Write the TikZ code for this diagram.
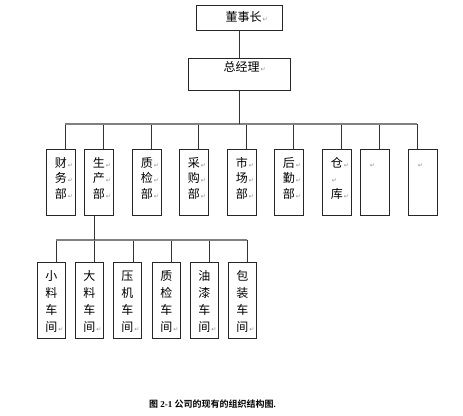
\documentclass[tikz,border=0pt]{standalone}
\usepackage{fontspec}
\setmainfont{Liberation Serif}
\newfontfamily\cjk{Noto Sans CJK SC}[BoldFont={Noto Sans CJK SC Bold}]
\newfontfamily\symf{DejaVu Sans}
\usetikzlibrary{positioning}
\newcommand\rmk{{\symf\fontsize{6}{6}\selectfont\color{black!45}\,↵}}
\tikzset{
  topbox/.style={draw=black!85,line width=.8pt,inner ysep=0pt,font=\cjk\fontsize{12}{12}\selectfont},
  dept/.style  ={draw=black!85,line width=.8pt,anchor=north west,minimum width=29,minimum height=66,
                 inner xsep=8.5pt,text width=12pt,inner ysep=0pt,align=left,text height=17.6pt,text depth=48.4pt,
                 font=\cjk\fontsize{12}{15.5}\selectfont},
  shop/.style  ={draw=black!85,line width=.8pt,anchor=north west,minimum width=28,minimum height=76,
                 inner xsep=8pt,text width=12pt,inner ysep=0pt,align=left,text height=17.6pt,text depth=58.4pt,
                 font=\cjk\fontsize{12}{17.3}\selectfont},
  link/.style  ={draw=black!80,line width=.8pt},
  bar/.style   ={draw=black!50,line width=1.3pt},
  captext/.style={font=\bfseries\fontsize{9}{9}\selectfont,inner sep=0pt},
}
\begin{document}
\begin{tikzpicture}[x=1pt,y=-1pt]
  \useasboundingbox (0,0) rectangle (463,415);
  \node[topbox,minimum width=86,minimum height=25,text height=16.5pt,text depth=8.5pt] (chair) at (239,17.5) {\hspace*{9pt}董事长\rlap{\rmk}};
  \node[topbox,minimum width=102,minimum height=32,text height=13.5pt,text depth=18.5pt,anchor=north] (gm) at (239,58) {\hspace*{5pt}总经理\rlap{\rmk}};
  \draw[link] (chair) -- (gm);
  \foreach \l/\t/\txt [count=\i] in {
      46/65/{财\rmk\\务\rmk\\部\rmk}, 84/103/{生\rmk\\产\rmk\\部\rmk}, 132/151/{质\rmk\\检\rmk\\部\rmk},
      179/198/{采\rmk\\购\rmk\\部\rmk}, 227/246/{市\rmk\\场\rmk\\部\rmk}, 274/293/{后\rmk\\勤\rmk\\部\rmk},
      322/341/{仓\rmk\\\rmk\\库\rmk}, 360/379/{\rmk\\~\\~}, 408/417/{\rmk\\~\\~}} {
    \node[dept] (d\i) at (\l,149) {\txt};
    \coordinate (t\i) at (\t,124);
    \draw[link] (t\i) -- (t\i |- d\i.north);
  }
  \draw[bar] (t1) -- (t9);
  \draw[link] (gm.south) -- (gm.south |- t1);
  \foreach \l/\t/\a/\b [count=\i] in {37/56/小/料, 75/94/大/料, 113/133/压/机,
      152/171/质/检, 190/209/油/漆, 228/247/包/装} {
    \node[shop] (w\i) at (\l,262) {\a\\\b\\车\\间\rmk};
    \coordinate (s\i) at (\t,240);
    \draw[link] (s\i) -- (s\i |- w\i.north);
  }
  \draw[bar] (s1) -- (s6);
  \draw[link] (d2.south -| s2) -- (s2);
  \node[captext,anchor=west] (cap) at (149,404) {{\cjk 图} 2-1 {\cjk 公司的现有的组织结构图}.};
\end{tikzpicture}
\end{document}
